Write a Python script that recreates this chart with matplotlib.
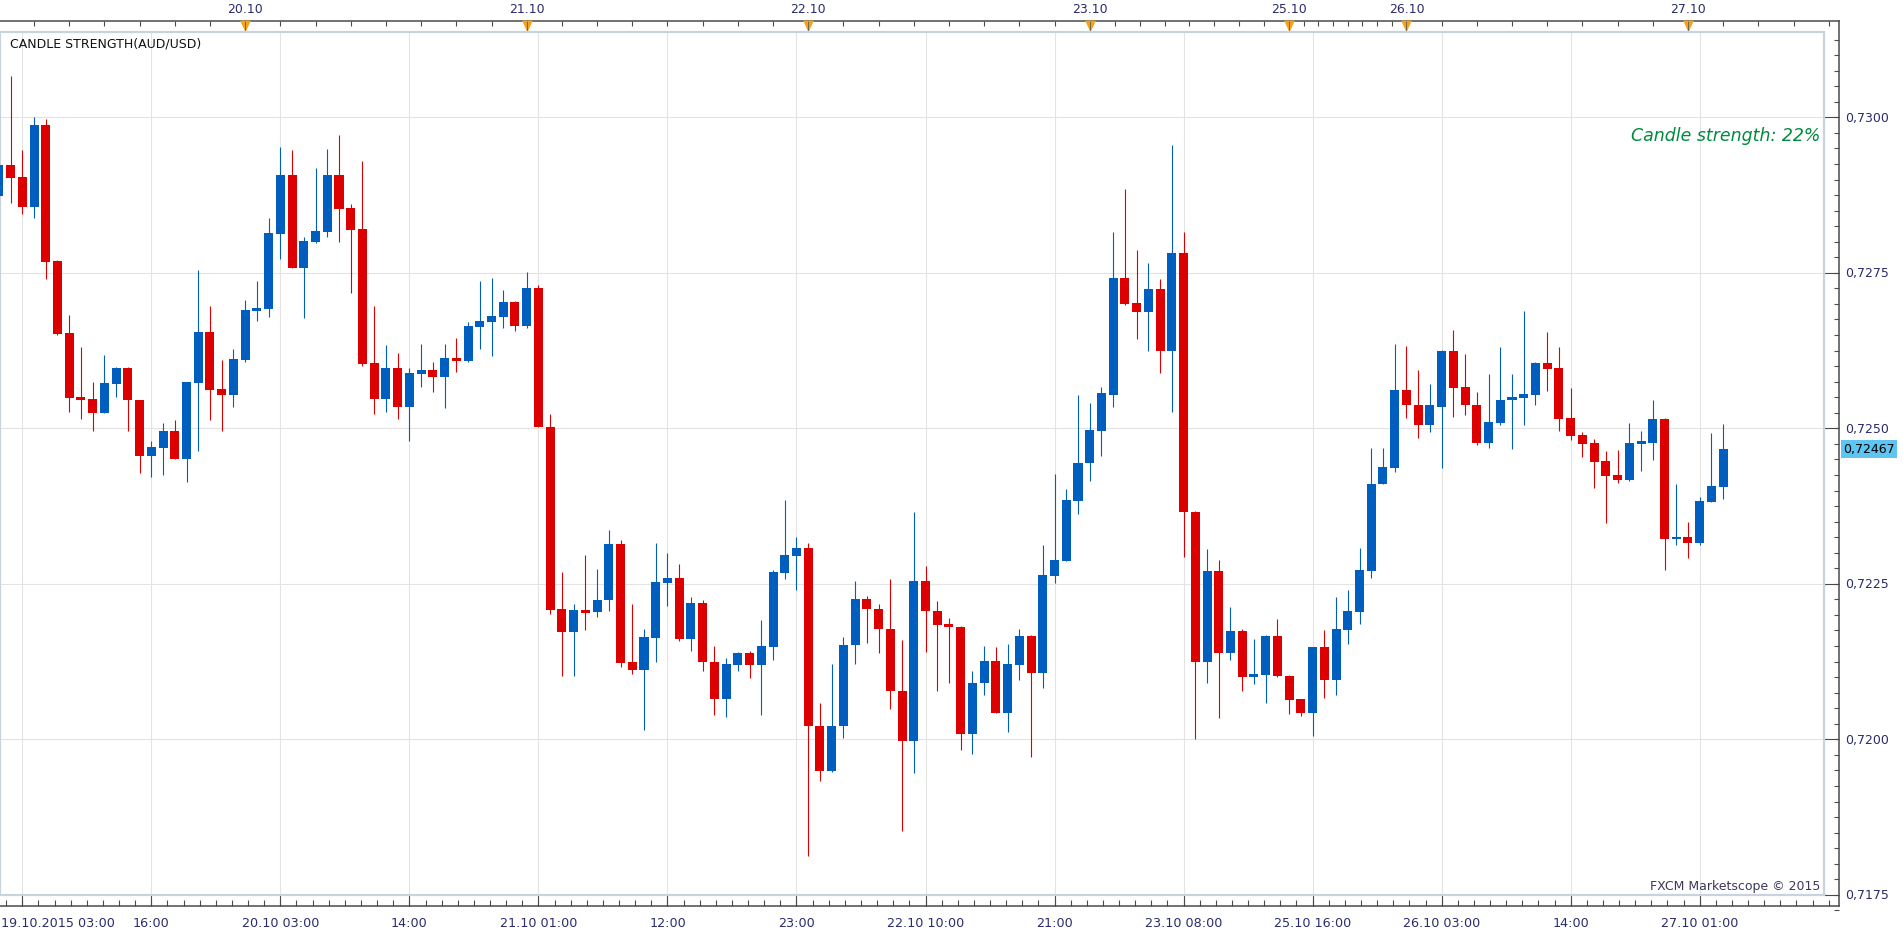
import numpy as np
import matplotlib
matplotlib.use('Agg')
import matplotlib.pyplot as plt
from matplotlib import transforms

# hourly AUD/USD candles, 19.10.2015 03:00 .. 27.10.2015
opens = [0.72874, 0.72923, 0.72904, 0.72856, 0.72988, 0.72769, 0.72653, 0.72550, 0.72547, 0.72525,
         0.72571, 0.72597, 0.72545, 0.72456, 0.72469, 0.72496, 0.72451, 0.72573, 0.72655, 0.72563,
         0.72553, 0.72610, 0.72689, 0.72692, 0.72813, 0.72907, 0.72758, 0.72799, 0.72816, 0.72907,
         0.72854, 0.72820, 0.72605, 0.72547, 0.72597, 0.72534, 0.72588, 0.72594, 0.72583, 0.72613,
         0.72608, 0.72663, 0.72671, 0.72679, 0.72703, 0.72665, 0.72726, 0.72502, 0.72209, 0.72173,
         0.72208, 0.72204, 0.72224, 0.72314, 0.72124, 0.72112, 0.72163, 0.72252, 0.72260, 0.72162,
         0.72219, 0.72125, 0.72064, 0.72120, 0.72139, 0.72120, 0.72149, 0.72268, 0.72295, 0.72308,
         0.72022, 0.71949, 0.72022, 0.72151, 0.72226, 0.72210, 0.72178, 0.72077, 0.71998, 0.72254,
         0.72207, 0.72185, 0.72181, 0.72008, 0.72090, 0.72126, 0.72043, 0.72120, 0.72166, 0.72106,
         0.72263, 0.72287, 0.72383, 0.72444, 0.72495, 0.72554, 0.72742, 0.72701, 0.72687, 0.72724,
         0.72624, 0.72782, 0.72366, 0.72124, 0.72270, 0.72139, 0.72174, 0.72100, 0.72103, 0.72166,
         0.72102, 0.72064, 0.72043, 0.72148, 0.72095, 0.72176, 0.72205, 0.72271, 0.72411, 0.72436,
         0.72562, 0.72538, 0.72505, 0.72535, 0.72624, 0.72566, 0.72538, 0.72476, 0.72509, 0.72545,
         0.72549, 0.72554, 0.72605, 0.72597, 0.72517, 0.72489, 0.72476, 0.72447, 0.72425, 0.72417,
         0.72475, 0.72476, 0.72515, 0.72322, 0.72325, 0.72315, 0.72382, 0.72406]
highs = [0.72933, 0.73067, 0.72947, 0.73000, 0.72997, 0.72770, 0.72682, 0.72631, 0.72574, 0.72618,
         0.72598, 0.72598, 0.72546, 0.72480, 0.72509, 0.72513, 0.72575, 0.72755, 0.72697, 0.72610,
         0.72628, 0.72706, 0.72737, 0.72838, 0.72952, 0.72947, 0.72808, 0.72919, 0.72949, 0.72972,
         0.72861, 0.72930, 0.72697, 0.72634, 0.72621, 0.72597, 0.72636, 0.72607, 0.72636, 0.72645,
         0.72671, 0.72737, 0.72742, 0.72722, 0.72705, 0.72751, 0.72730, 0.72523, 0.72269, 0.72217,
         0.72296, 0.72274, 0.72336, 0.72320, 0.72217, 0.72177, 0.72315, 0.72299, 0.72282, 0.72229,
         0.72224, 0.72150, 0.72130, 0.72141, 0.72142, 0.72192, 0.72272, 0.72385, 0.72326, 0.72316,
         0.72058, 0.72121, 0.72165, 0.72255, 0.72230, 0.72217, 0.72257, 0.72159, 0.72365, 0.72278,
         0.72222, 0.72195, 0.72182, 0.72110, 0.72150, 0.72148, 0.72153, 0.72177, 0.72167, 0.72312,
         0.72426, 0.72402, 0.72554, 0.72540, 0.72566, 0.72816, 0.72884, 0.72786, 0.72766, 0.72740,
         0.72956, 0.72816, 0.72367, 0.72306, 0.72288, 0.72212, 0.72178, 0.72161, 0.72168, 0.72193,
         0.72103, 0.72065, 0.72149, 0.72175, 0.72228, 0.72240, 0.72307, 0.72468, 0.72469, 0.72635,
         0.72632, 0.72594, 0.72571, 0.72626, 0.72658, 0.72619, 0.72558, 0.72587, 0.72631, 0.72588,
         0.72689, 0.72607, 0.72655, 0.72631, 0.72565, 0.72494, 0.72483, 0.72463, 0.72465, 0.72509,
         0.72496, 0.72546, 0.72516, 0.72410, 0.72349, 0.72389, 0.72492, 0.72507]
lows = [0.72866, 0.72862, 0.72845, 0.72838, 0.72740, 0.72650, 0.72527, 0.72515, 0.72495, 0.72524,
        0.72551, 0.72495, 0.72428, 0.72421, 0.72425, 0.72450, 0.72413, 0.72463, 0.72513, 0.72496,
        0.72535, 0.72607, 0.72673, 0.72679, 0.72772, 0.72757, 0.72677, 0.72798, 0.72808, 0.72800,
        0.72718, 0.72600, 0.72523, 0.72526, 0.72515, 0.72480, 0.72566, 0.72558, 0.72533, 0.72591,
        0.72607, 0.72628, 0.72616, 0.72661, 0.72657, 0.72661, 0.72502, 0.72201, 0.72101, 0.72102,
        0.72176, 0.72196, 0.72207, 0.72117, 0.72105, 0.72015, 0.72125, 0.72214, 0.72158, 0.72142,
        0.72110, 0.72039, 0.72036, 0.72110, 0.72098, 0.72039, 0.72128, 0.72257, 0.72240, 0.71813,
        0.71933, 0.71948, 0.72002, 0.72121, 0.72155, 0.72138, 0.72048, 0.71852, 0.71946, 0.72141,
        0.72077, 0.72090, 0.71983, 0.71977, 0.72071, 0.72042, 0.72011, 0.72096, 0.71972, 0.72083,
        0.72251, 0.72286, 0.72362, 0.72415, 0.72455, 0.72534, 0.72698, 0.72644, 0.72624, 0.72589,
        0.72526, 0.72293, 0.72001, 0.72091, 0.72035, 0.72128, 0.72077, 0.72089, 0.72058, 0.72100,
        0.72040, 0.72037, 0.72005, 0.72066, 0.72071, 0.72154, 0.72185, 0.72259, 0.72410, 0.72429,
        0.72516, 0.72484, 0.72494, 0.72436, 0.72518, 0.72521, 0.72473, 0.72469, 0.72505, 0.72467,
        0.72505, 0.72538, 0.72560, 0.72496, 0.72481, 0.72454, 0.72404, 0.72347, 0.72412, 0.72416,
        0.72431, 0.72449, 0.72272, 0.72313, 0.72291, 0.72313, 0.72381, 0.72386]
closes = [0.72923, 0.72903, 0.72856, 0.72988, 0.72768, 0.72652, 0.72549, 0.72546, 0.72525, 0.72573,
          0.72597, 0.72545, 0.72456, 0.72470, 0.72496, 0.72451, 0.72574, 0.72655, 0.72562, 0.72553,
          0.72611, 0.72690, 0.72693, 0.72814, 0.72907, 0.72758, 0.72801, 0.72817, 0.72907, 0.72853,
          0.72819, 0.72603, 0.72547, 0.72597, 0.72534, 0.72589, 0.72594, 0.72583, 0.72613, 0.72608,
          0.72665, 0.72673, 0.72681, 0.72703, 0.72665, 0.72726, 0.72502, 0.72208, 0.72173, 0.72208,
          0.72203, 0.72224, 0.72314, 0.72123, 0.72112, 0.72164, 0.72253, 0.72260, 0.72162, 0.72219,
          0.72125, 0.72064, 0.72121, 0.72139, 0.72120, 0.72150, 0.72269, 0.72296, 0.72308, 0.72022,
          0.71949, 0.72022, 0.72152, 0.72226, 0.72210, 0.72178, 0.72077, 0.71998, 0.72254, 0.72206,
          0.72184, 0.72181, 0.72008, 0.72090, 0.72126, 0.72043, 0.72121, 0.72166, 0.72106, 0.72264,
          0.72288, 0.72384, 0.72445, 0.72497, 0.72556, 0.72742, 0.72700, 0.72687, 0.72724, 0.72624,
          0.72782, 0.72366, 0.72124, 0.72270, 0.72139, 0.72174, 0.72100, 0.72105, 0.72166, 0.72101,
          0.72063, 0.72043, 0.72148, 0.72095, 0.72177, 0.72206, 0.72272, 0.72411, 0.72437, 0.72562,
          0.72537, 0.72505, 0.72537, 0.72624, 0.72565, 0.72537, 0.72476, 0.72510, 0.72546, 0.72551,
          0.72555, 0.72605, 0.72596, 0.72515, 0.72488, 0.72475, 0.72446, 0.72423, 0.72417, 0.72476,
          0.72478, 0.72515, 0.72322, 0.72325, 0.72315, 0.72383, 0.72407, 0.72467]

# time axis (candle index of each grid line / label)
grid_idx = [2, 13, 24, 35, 46, 57, 68, 79, 90, 101, 112, 123, 134, 145]
grid_labels = ['19.10.2015 03:00', '16:00', '20.10 03:00', '14:00', '21.10 01:00', '12:00', '23:00',
               '22.10 10:00', '21:00', '23.10 08:00', '25.10 16:00', '26.10 03:00', '14:00', '27.10 01:00']
day_idx = [21, 45, 69, 93, 110, 120, 144]
day_labels = ['20.10', '21.10', '22.10', '23.10', '25.10', '26.10', '27.10']
price_grid = [0.7175, 0.7200, 0.7225, 0.7250, 0.7275, 0.7300]
last_price = 0.72467
strength = 22

W, H = 1903, 937
UP, DOWN = '#005ebf', '#dc0000'
NAVY = '#2b2b6e'

# pixel layout of the Marketscope window
STEP = 11.73        # px per candle
X0 = -1.16          # px of candle 0
def idx_at(px):
    return (px - X0) / STEP
def price_at(py):
    return 0.7300 - (py - 118.3) / 62200
def fx(px):
    return px / W
def fy(py):
    return 1 - py / H

R_IN, R_OUT = 1824, 1839
T_OUT, T_IN, B_IN, B_OUT = 21.7, 33, 895.5, 906.7

fig = plt.figure(figsize=(W / 100, H / 100), dpi=100)
fig.patch.set_facecolor('white')

# outer axes: dark axis lines with ticks
axo = fig.add_axes([0, fy(B_OUT), fx(R_OUT), fy(T_OUT) - fy(B_OUT)])
axo.set_xlim(idx_at(0), idx_at(R_OUT))
axo.set_ylim(price_at(B_OUT), price_at(T_OUT))
axo.set_xticks([])
axo.set_yticks([])
axo.spines['left'].set_visible(False)
for s in ['top', 'right', 'bottom']:
    axo.spines[s].set_color('#4a4a4a')
    axo.spines[s].set_linewidth(1.1)

tx = transforms.blended_transform_factory(axo.transData, fig.transFigure)
ty = transforms.blended_transform_factory(fig.transFigure, axo.transData)
tick_kw = dict(color='#4a4a4a', linewidth=0.8, clip_on=False)

# bottom ticks: major at grid lines, 8 minor between
major_x = np.array(grid_idx, dtype=float)
minor_x = np.arange(grid_idx[0] - 11 / 8, idx_at(R_OUT), 11 / 8)
axo.vlines(major_x, fy(B_OUT), fy(B_IN), transform=tx, **tick_kw)
axo.vlines(minor_x, fy(B_OUT), fy(B_OUT - 5.5), transform=tx, **tick_kw)

# top ticks: 8 per day segment
top_ticks = list(np.arange(day_idx[0], -0.5, -3))
for a, b in zip(day_idx[:-1], day_idx[1:]):
    top_ticks += list(np.linspace(a, b, 9))
top_ticks += list(np.arange(day_idx[-1], idx_at(R_OUT), 3))
top_ticks = [t for t in top_ticks if t >= idx_at(0)]
axo.vlines(top_ticks, fy(T_OUT), fy(T_OUT + 5), transform=tx, **tick_kw)
axo.plot(day_idx, [fy(27)] * len(day_idx), transform=tx, linestyle='none',
         marker=[(-0.45, 0.5), (0.45, 0.5), (0, -0.5)], markersize=8.5,
         color='#f5a31c', markeredgewidth=0, clip_on=False, zorder=5)
axo.vlines(day_idx, fy(T_OUT), fy(T_IN), transform=tx, color='#6a5a40',
           linewidth=0.6, clip_on=False, zorder=6)
for d, lab in zip(day_idx, day_labels):
    axo.text(d, fy(9.5), lab, transform=tx, ha='center', va='center',
             fontsize=9, color=NAVY)

# right ticks: major every 0.0025, minor every 0.00025
minor_y = np.arange(0.71725, 0.73150, 0.00025)
axo.hlines(minor_y, fx(R_OUT - 5), fx(R_OUT), transform=ty, **tick_kw)
axo.hlines(price_grid, fx(R_IN), fx(R_OUT), transform=ty, **tick_kw)
for p in price_grid:
    axo.text(fx(R_OUT + 6), p, f'{p:.4f}'.replace('.', ','), transform=ty,
             ha='left', va='center', fontsize=9, color=NAVY)
axo.text(fx(R_OUT + 4), last_price, f'{last_price:.5f}'.replace('.', ','), transform=ty,
         ha='left', va='center', fontsize=9, color='black', zorder=10,
         bbox=dict(boxstyle='square,pad=0.18', fc='#5ec5f2', ec='none'))

# bottom time labels
for g, lab in zip(grid_idx[1:], grid_labels[1:]):
    axo.text(g, fy(924), lab, transform=tx, ha='center', va='center',
             fontsize=9.2, color=NAVY)
fig.text(fx(1), fy(924), grid_labels[0], ha='left', va='center', fontsize=9.2, color=NAVY)

# inner plot area
ax = fig.add_axes([0, fy(B_IN), fx(R_IN), fy(T_IN) - fy(B_IN)])
ax.set_xlim(idx_at(0), idx_at(R_IN))
ax.set_ylim(price_at(B_IN), price_at(T_IN))
ax.set_xticks([])
ax.set_yticks([])
for s in ax.spines.values():
    s.set_color('#c9d3df')
    s.set_linewidth(1.6)
for g in grid_idx:
    ax.axvline(g, color='#e3e3e3', linewidth=0.8, zorder=1)
for p in price_grid:
    ax.axhline(p, color='#e3e3e3', linewidth=0.8, zorder=1)

o = np.array(opens)
h = np.array(highs)
l = np.array(lows)
c = np.array(closes)
x = np.arange(len(o))
cols = np.where(c >= o, UP, DOWN)
ax.vlines(x, l, h, colors=cols, linewidth=0.8, zorder=3)
body_lo = np.minimum(o, c)
body_h = np.maximum(np.abs(c - o), 0.00004)
ax.bar(x, body_h, bottom=body_lo, width=0.77, color=cols, linewidth=0, zorder=4)

ax.text(fx(10), fy(44), 'CANDLE STRENGTH(AUD/USD)', transform=fig.transFigure,
        ha='left', va='center', fontsize=9, color='#111111')
ax.text(fx(1820), fy(136), f'Candle strength: {strength}%', transform=fig.transFigure,
        ha='right', va='center', fontsize=12.5, style='italic', color='#008a3e')
ax.text(fx(1820), fy(887), 'FXCM Marketscope © 2015', transform=fig.transFigure,
        ha='right', va='center', fontsize=9, color='#3a3a5a')

fig.savefig('out.png', dpi=100, facecolor='white')
